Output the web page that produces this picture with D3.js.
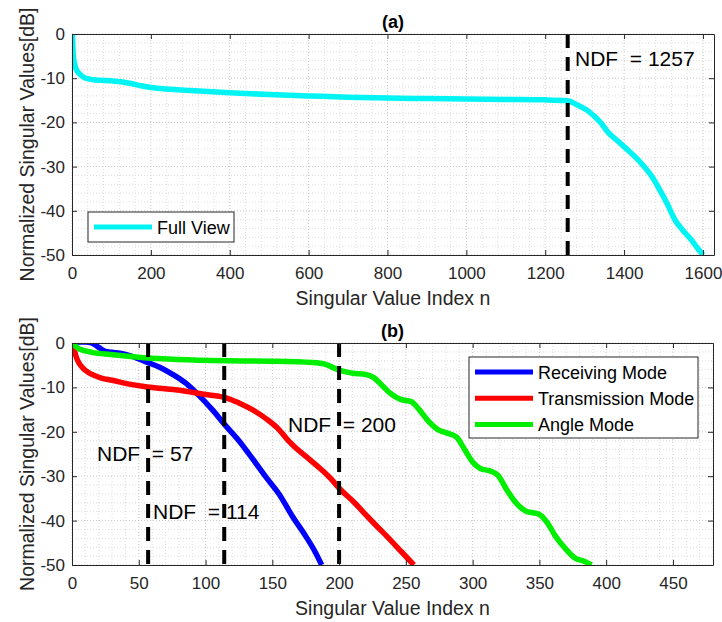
<!DOCTYPE html>
<html><head><meta charset="utf-8">
<script src="https://cdn.jsdelivr.net/npm/d3@7"></script>
<style>
body{margin:0;background:#fff;}
svg{display:block;font-family:"Liberation Sans",Arial,Helvetica,sans-serif;}
</style></head><body>
<svg id="c" width="722" height="622"></svg>
<script>
// ---------- data ----------
const fullView = [[1,0],[2,-2.5],[3,-4.5],[5,-6],[8,-7.3],[12,-8.2],[20,-9.1],[30,-9.8],[45,-10.2],[60,-10.4],[80,-10.5],[100,-10.6],[125,-10.8],[150,-11.2],[175,-11.7],[200,-12.1],[250,-12.5],[300,-12.8],[400,-13.3],[500,-13.7],[600,-14.0],[700,-14.3],[800,-14.5],[900,-14.6],[1000,-14.7],[1100,-14.8],[1200,-14.9],[1257,-15.1],[1280,-16.0],[1310,-17.5],[1340,-20.0],[1360,-22.3],[1385,-24.3],[1410,-26.3],[1445,-29.4],[1470,-32.2],[1490,-35.2],[1510,-38.5],[1530,-42.2],[1550,-44.5],[1570,-46.5],[1585,-48.3],[1600,-50]];
const receiving = [[1,0],[5,0.2],[10,0.2],[15,0],[20,-1],[25,-1.9],[30,-2.1],[36,-2.3],[45,-3],[56,-4.3],[66,-5.5],[75,-7],[85,-9],[95,-11.8],[105,-15],[115,-18.6],[125,-22],[135,-26],[146,-30.5],[155,-34],[165,-39],[175,-43.5],[182,-47],[187,-50]];
const transmission = [[1,0],[2,-1.8],[3,-3],[5,-4.4],[8,-5.6],[12,-6.6],[16,-7.2],[22,-7.9],[30,-8.4],[40,-9.1],[54,-9.8],[65,-10.2],[79,-10.6],[90,-11.1],[100,-11.6],[110,-12],[116,-12.4],[125,-13.5],[135,-15],[146,-17.2],[155,-19.5],[162,-22],[166,-23.2],[175,-25.5],[184,-27.8],[193,-30.3],[201,-33],[211,-35.8],[221,-39],[229,-41.5],[236,-43.6],[246,-46.8],[256,-50]];
const angle = [[1,0],[3,-0.8],[6,-1.4],[15,-2.1],[29,-2.6],[54,-3.3],[79,-3.7],[116,-4.0],[150,-4.1],[180,-4.4],[190,-4.8],[196,-5.6],[202,-6.3],[210,-6.8],[220,-7.1],[226,-7.8],[232,-9.5],[239,-11.5],[246,-12.7],[254,-13.2],[260,-15],[266,-17.3],[274,-19.5],[282,-20.4],[288,-21.2],[294,-24],[300,-26.8],[306,-28.3],[313,-28.8],[319,-29.8],[326,-33.3],[333,-36.2],[340,-37.9],[350,-38.6],[356,-40.5],[362,-43.5],[370,-46.5],[376,-48.3],[384,-49.2],[389,-50]];
const ndfA = [1257];
const ndfB = [57,114,200];
const ndfLabelsA = ["NDF  = 1257"];
const ndfLabelsB = ["NDF  = 57","NDF  = 114","NDF  = 200"];
const xTicksA = [0,200,400,600,800,1000,1200,1400,1600];
const xTicksB = [0,50,100,150,200,250,300,350,400,450];
const yTicks = [0,-10,-20,-30,-40,-50];
const legendA = ["Full View"];
const legendB = ["Receiving Mode","Transmission Mode","Angle Mode"];
const titles = ["(a)","(b)"];
const xLabel = "Singular Value Index n";
const yLabel = "Normalized Singular Values[dB]";

// ---------- drawing ----------
const svg = d3.select("#c");
const TXT = "#262626";

function panel(cfg){
  const {left,right,top,bottom,xMax,xTicks,xMinor,series,colors,ndf,ndfLabels,ndfPos,legend,legendBox,title,id} = cfg;
  const x = d3.scaleLinear().domain([0,xMax]).range([left,right]);
  const y = d3.scaleLinear().domain([-50,0]).range([bottom,top]);
  const g = svg.append("g");
  const gx = d3.range(0,xMax+1e-9,xMinor);
  const gy = d3.range(-50,0.001,2);
  g.append("g").selectAll("line").data(gx).join("line")
    .attr("x1",d=>x(d)).attr("x2",d=>x(d)).attr("y1",top).attr("y2",bottom)
    .attr("stroke",d=>xTicks.includes(d)?"#c8c8c8":"#dedede").attr("stroke-width",1).attr("stroke-dasharray","1,2");
  g.append("g").selectAll("line").data(gy).join("line")
    .attr("y1",d=>y(d)).attr("y2",d=>y(d)).attr("x1",left).attr("x2",right)
    .attr("stroke",d=>yTicks.includes(d)?"#c8c8c8":"#dedede").attr("stroke-width",1).attr("stroke-dasharray","1,2");
  svg.append("clipPath").attr("id","clip"+id).append("rect")
    .attr("x",left).attr("y",top).attr("width",right-left).attr("height",bottom-top);
  const line = d3.line().x(d=>x(d[0])).y(d=>y(d[1])).curve(d3.curveMonotoneX);
  const lg = g.append("g").attr("clip-path",`url(#clip${id})`);
  series.forEach((s,i)=>{
    lg.append("path").datum(s).attr("d",line).attr("fill","none")
      .attr("stroke",colors[i]).attr("stroke-width",5.5).attr("stroke-linejoin","round").attr("stroke-linecap","butt");
  });
  lg.selectAll("line.ndf").data(ndf).join("line").attr("class","ndf")
    .attr("x1",d=>x(d)).attr("x2",d=>x(d)).attr("y1",top).attr("y2",bottom)
    .attr("stroke","#000").attr("stroke-width",4).attr("stroke-dasharray","14,9");
  const fmt = d=>String(d);
  const ax = (sel)=>{sel.selectAll("path").attr("stroke",TXT);sel.selectAll("line").attr("stroke",TXT);
    sel.selectAll("text").attr("fill",TXT).style("font-size","17px").style("font-family",'"Liberation Sans",Arial,sans-serif');};
  g.append("g").attr("transform",`translate(0,${bottom})`)
    .call(d3.axisBottom(x).tickValues(xTicks).tickFormat(fmt).tickSizeInner(-5).tickSizeOuter(0).tickPadding(12)).call(ax);
  g.append("g").attr("transform",`translate(0,${top})`)
    .call(d3.axisTop(x).tickValues(xTicks).tickFormat("").tickSizeInner(-5).tickSizeOuter(0)).call(ax);
  g.append("g").attr("transform",`translate(${left},0)`)
    .call(d3.axisLeft(y).tickValues(yTicks).tickFormat(fmt).tickSizeInner(-5).tickSizeOuter(0).tickPadding(7)).call(ax);
  g.append("g").attr("transform",`translate(${right},0)`)
    .call(d3.axisRight(y).tickValues(yTicks).tickFormat("").tickSizeInner(-5).tickSizeOuter(0)).call(ax);
  g.append("text").attr("x",(left+right)/2).attr("y",bottom+50).attr("text-anchor","middle")
    .attr("fill",TXT).style("font-size","19.5px").text(xLabel);
  g.append("text").attr("transform",`translate(34,${(top+bottom)/2}) rotate(-90)`).attr("text-anchor","middle")
    .attr("fill",TXT).style("font-size","19.5px").text(yLabel);
  g.append("text").attr("x",(left+right)/2).attr("y",top-6).attr("text-anchor","middle")
    .attr("fill","#000").style("font-size","18px").style("font-weight","bold").text(title);
  ndfLabels.forEach((t,i)=>{
    g.append("text").attr("x",ndfPos[i][0]).attr("y",ndfPos[i][1]).attr("fill","#000")
      .style("font-size","21px").style("white-space","pre").text(t);
  });
  const [bx,by,bw,bh] = legendBox;
  const L = g.append("g");
  L.append("rect").attr("x",bx).attr("y",by).attr("width",bw).attr("height",bh)
    .attr("fill","#fff").attr("stroke",TXT).attr("stroke-width",1);
  const rowH = legend.length>1 ? 26.3 : 0;
  legend.forEach((t,i)=>{
    const cy = by + (legend.length>1 ? 15 : bh/2) + i*rowH;
    L.append("line").attr("x1",bx+6).attr("x2",bx+64).attr("y1",cy).attr("y2",cy)
      .attr("stroke",colors[i]).attr("stroke-width",5);
    L.append("text").attr("x",bx+69).attr("y",cy+6.5).attr("fill","#000").style("font-size","18px").text(t);
  });
}

panel({id:"a",left:72,right:714,top:34,bottom:255,xMax:1628,xTicks:xTicksA,xMinor:40,
  series:[fullView],colors:["#00f4f4"],ndf:ndfA,ndfLabels:ndfLabelsA,ndfPos:[[575,66]],
  legend:legendA,legendBox:[88,212,146,30],title:titles[0]});
panel({id:"b",left:72,right:713,top:343,bottom:565,xMax:480,xTicks:xTicksB,xMinor:10,
  series:[receiving,transmission,angle],colors:["#0000ff","#ff0000","#00ee00"],ndf:ndfB,ndfLabels:ndfLabelsB,
  ndfPos:[[97,461],[153,519],[288,432]],
  legend:legendB,legendBox:[469,357,229,81],title:titles[1]});
</script>
</body></html>
